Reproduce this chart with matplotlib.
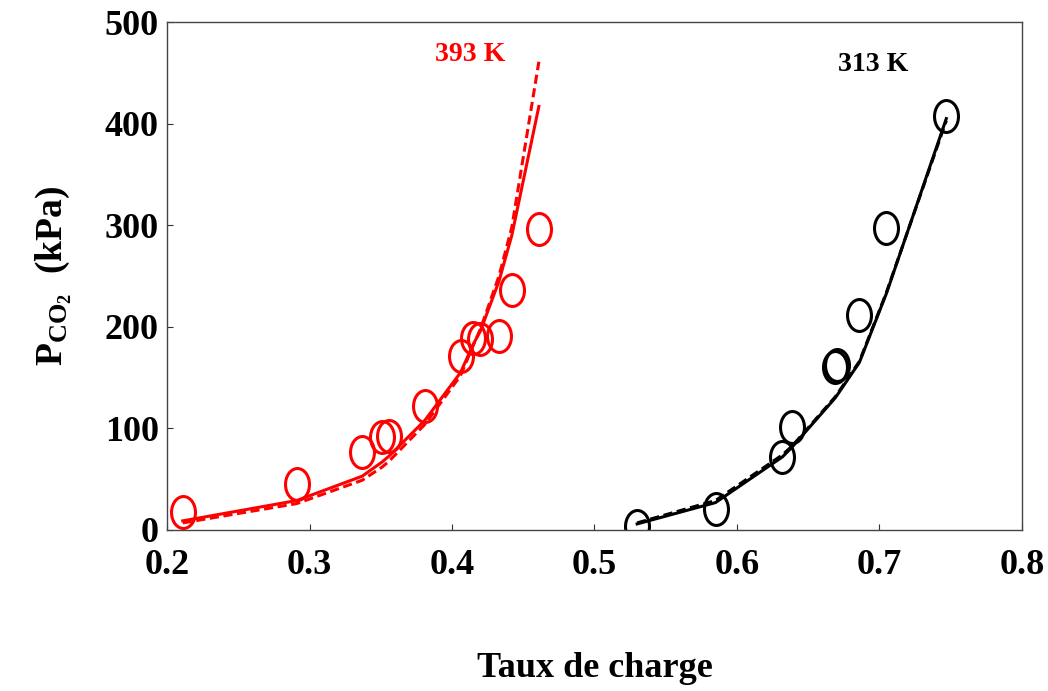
# Equilibrium CO2 partial pressure vs loading at 393 K and 313 K
import matplotlib
matplotlib.use('Agg')
import matplotlib.pyplot as plt
from matplotlib.path import Path

plt.rcParams['mathtext.fontset'] = 'custom'
plt.rcParams['mathtext.rm'] = 'Liberation Serif'
plt.rcParams['mathtext.bf'] = 'Liberation Serif:bold'

# experimental points, 393 K
x_393 = [0.211, 0.291, 0.337, 0.351, 0.356, 0.381, 0.406, 0.415, 0.420, 0.433, 0.442, 0.461]
p_393 = [18, 45, 77, 92, 93, 122, 171, 189, 188, 191, 236, 296]
# model curves, 393 K
p_393_solid = [9, 29, 53, 67, 73, 108, 155, 183, 196, 245, 290, 417]
p_393_dash = [7, 26, 49, 62, 68, 104, 152, 182, 198, 250, 298, 461]

# experimental points, 313 K
x_313 = [0.530, 0.585, 0.632, 0.639, 0.669, 0.670, 0.686, 0.705, 0.747]
p_313 = [4, 21, 72, 101, 160, 162, 212, 297, 408]
# model curves, 313 K
p_313_solid = [6, 27, 72, 82, 130, 132, 165, 233, 405]
p_313_dash = [7, 29, 74, 83, 131, 133, 166, 234, 403]

xticks = [0.2, 0.3, 0.4, 0.5, 0.6, 0.7, 0.8]
yticks = [0, 100, 200, 300, 400, 500]

# slightly tall open circle, like the stretched original
circ = Path.unit_circle()
ellipse = Path(circ.vertices * [0.75, 1.0], circ.codes)

fig = plt.figure(figsize=(10.48, 6.91), dpi=100)
ax = fig.add_axes([0.1594, 0.233, 0.8156, 0.735])

ax.plot(x_393, p_393_solid, '-', color='red', lw=2.2)
ax.plot(x_393, p_393_dash, '--', color='red', lw=2.2, dashes=(3, 1.5))
ax.plot(x_393, p_393, ls='none', marker=ellipse, ms=23, mfc='none', mec='red', mew=2.2)

ax.plot(x_313, p_313_solid, '-', color='black', lw=2.2)
ax.plot(x_313, p_313_dash, '--', color='black', lw=2.2, dashes=(3, 1.5))
ax.plot(x_313, p_313, ls='none', marker=ellipse, ms=23, mfc='none', mec='black', mew=2.2)

ax.text(0.388, 468, '393 K', color='red', fontsize=20, fontweight='bold',
        family='Liberation Serif', ha='left', va='center')
ax.text(0.671, 458, '313 K', color='black', fontsize=20, fontweight='bold',
        family='Liberation Serif', ha='left', va='center')

ax.set_xlim(0.2, 0.8)
ax.set_ylim(0, 500)
ax.set_xticks(xticks)
ax.set_yticks(yticks)
ax.set_xticklabels([f'{t:g}' for t in xticks])
ax.set_yticklabels([str(t) for t in yticks])
ax.tick_params(direction='in', length=4, width=0.8, color='#333333')
ax.tick_params(axis='x', pad=14)
ax.tick_params(axis='y', pad=6)
for lab in ax.get_xticklabels() + ax.get_yticklabels():
    lab.set_family('Liberation Serif')
    lab.set_fontweight('bold')
    lab.set_fontsize(26)
for s in ax.spines.values():
    s.set_color('#444444')
    s.set_linewidth(1.0)

ax.set_xlabel('Taux de charge', fontsize=26, fontweight='bold',
              family='Liberation Serif', labelpad=50)
ax.set_ylabel(r'$\mathbf{P_{CO_2}}$  $\mathbf{(kPa)}$', fontsize=27,
              family='Liberation Serif', labelpad=22)

fig.savefig('out.png', dpi=100)
